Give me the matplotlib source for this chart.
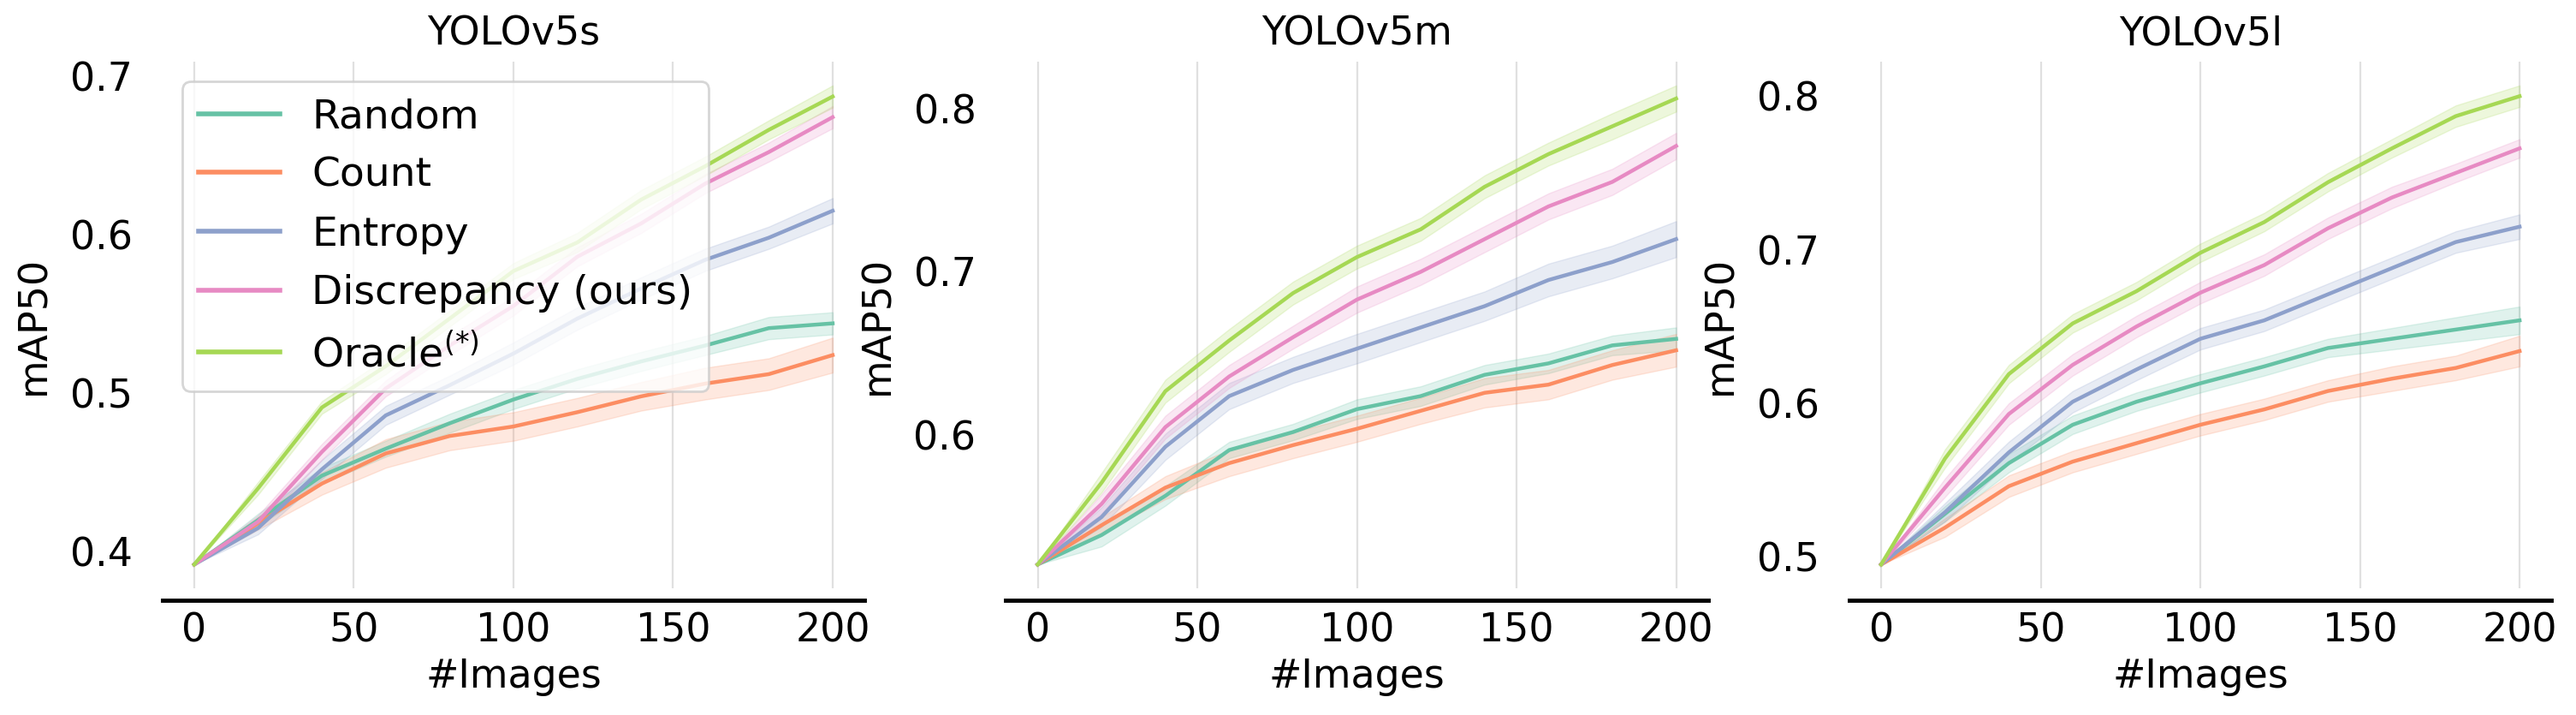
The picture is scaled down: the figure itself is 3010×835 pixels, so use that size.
import matplotlib
matplotlib.use("Agg")
import matplotlib.pyplot as plt

# number of labelled images
images = [0, 20, 40, 60, 80, 100, 120, 140, 160, 180, 200]

methods = ["Random", "Count", "Entropy", "Discrepancy (ours)", r"Oracle$^{(*)}$"]
colors = ["#66c2a5", "#fc8d62", "#8da0cb", "#e78ac3", "#a6d854"]
titles = ["YOLOv5s", "YOLOv5m", "YOLOv5l"]

# YOLOv5s
random_s = [0.392, 0.420, 0.448, 0.465, 0.481, 0.496, 0.509, 0.520, 0.530, 0.541, 0.544]
count_s = [0.392, 0.418, 0.443, 0.462, 0.473, 0.479, 0.488, 0.498, 0.506, 0.512, 0.524]
entropy_s = [0.392, 0.415, 0.452, 0.486, 0.505, 0.525, 0.547, 0.566, 0.584, 0.598, 0.615]
discrepancy_s = [0.392, 0.419, 0.463, 0.503, 0.530, 0.555, 0.586, 0.607, 0.632, 0.652, 0.674]
oracle_s = [0.392, 0.440, 0.491, 0.517, 0.547, 0.577, 0.595, 0.622, 0.643, 0.666, 0.687]

# YOLOv5m
random_m = [0.521, 0.539, 0.563, 0.591, 0.602, 0.616, 0.624, 0.637, 0.644, 0.655, 0.659]
count_m = [0.521, 0.545, 0.568, 0.583, 0.594, 0.604, 0.615, 0.626, 0.631, 0.643, 0.652]
entropy_m = [0.521, 0.550, 0.593, 0.624, 0.640, 0.653, 0.666, 0.679, 0.695, 0.706, 0.720]
discrepancy_m = [0.521, 0.558, 0.605, 0.636, 0.660, 0.683, 0.700, 0.720, 0.740, 0.755, 0.777]
oracle_m = [0.521, 0.571, 0.627, 0.658, 0.687, 0.709, 0.726, 0.752, 0.772, 0.789, 0.806]

# YOLOv5l
random_l = [0.495, 0.528, 0.561, 0.586, 0.601, 0.613, 0.624, 0.636, 0.642, 0.648, 0.654]
count_l = [0.495, 0.519, 0.546, 0.562, 0.574, 0.586, 0.596, 0.608, 0.616, 0.623, 0.634]
entropy_l = [0.495, 0.529, 0.568, 0.601, 0.622, 0.642, 0.654, 0.671, 0.688, 0.705, 0.715]
discrepancy_l = [0.495, 0.545, 0.593, 0.625, 0.650, 0.672, 0.690, 0.714, 0.734, 0.750, 0.766]
oracle_l = [0.495, 0.564, 0.619, 0.652, 0.673, 0.698, 0.718, 0.744, 0.766, 0.787, 0.800]

# half width of the shaded bands
err_random_s = [0, .004, .005, .005, .006, .006, .006, .006, .006, .007, .007]
err_count_s = [0, .004, .007, .009, .009, .009, .009, .009, .010, .010, .011]
err_entropy_s = [0, .004, .006, .006, .006, .007, .007, .007, .007, .007, .008]
err_discrepancy_s = [0, .004, .005, .005, .006, .006, .006, .006, .006, .006, .007]
err_oracle_s = [0, .004, .004, .005, .005, .005, .006, .006, .006, .006, .007]

err_random_m = [0, .007, .006, .005, .005, .006, .006, .006, .006, .006, .007]
err_count_m = [0, .005, .007, .008, .008, .008, .008, .009, .009, .009, .010]
err_entropy_m = [0, .006, .008, .008, .008, .009, .009, .009, .010, .010, .011]
err_discrepancy_m = [0, .006, .007, .007, .007, .008, .008, .008, .008, .008, .008]
err_oracle_m = [0, .006, .007, .007, .007, .007, .007, .007, .007, .008, .008]

err_random_l = [0, .005, .006, .006, .006, .006, .006, .006, .007, .008, .009]
err_count_l = [0, .006, .007, .007, .007, .007, .007, .007, .008, .008, .010]
err_entropy_l = [0, .006, .007, .007, .007, .007, .007, .007, .007, .007, .008]
err_discrepancy_l = [0, .006, .007, .007, .007, .007, .007, .007, .007, .006, .006]
err_oracle_l = [0, .006, .006, .006, .006, .006, .006, .006, .006, .007, .007]

panels = [
    ([random_s, count_s, entropy_s, discrepancy_s, oracle_s],
     [err_random_s, err_count_s, err_entropy_s, err_discrepancy_s, err_oracle_s]),
    ([random_m, count_m, entropy_m, discrepancy_m, oracle_m],
     [err_random_m, err_count_m, err_entropy_m, err_discrepancy_m, err_oracle_m]),
    ([random_l, count_l, entropy_l, discrepancy_l, oracle_l],
     [err_random_l, err_count_l, err_entropy_l, err_discrepancy_l, err_oracle_l]),
]

fs = 33
plt.rcParams["font.family"] = ["DejaVu Sans"]

fig, axes = plt.subplots(1, 3, figsize=(30.1, 8.35), dpi=100)
fig.subplots_adjust(left=0.063, right=0.9905, bottom=0.177, top=0.914, wspace=0.201)

for ax, title, (series, errs) in zip(axes, titles, panels):
    for name, col, y, e in zip(methods, colors, series, errs):
        lo = [v - d for v, d in zip(y, e)]
        hi = [v + d for v, d in zip(y, e)]
        ax.fill_between(images, lo, hi, color=col, alpha=0.2, linewidth=1)
        ax.plot(images, y, color=col, lw=3.2, label=name)

    ax.set_title(title, fontsize=fs, pad=14)
    ax.set_xlabel("#Images", fontsize=fs, labelpad=6)
    ax.set_ylabel("mAP50", fontsize=fs, labelpad=14)
    ax.set_xticks([0, 50, 100, 150, 200])
    ax.tick_params(axis="x", length=0, pad=10, labelsize=fs)
    ax.tick_params(axis="y", length=0, pad=25, labelsize=fs)

    ax.grid(axis="x", color="#e0e0e0", lw=1.6)
    ax.grid(axis="y", visible=False)
    ax.set_axisbelow(True)
    for s in ["left", "top", "right"]:
        ax.spines[s].set_visible(False)
    ax.spines["bottom"].set_position(("outward", 10))
    ax.spines["bottom"].set_linewidth(3.5)
    ax.spines["bottom"].set_color("black")

leg = axes[0].legend(loc="upper left", fontsize=34, framealpha=0.8, fancybox=True)
leg.get_frame().set_edgecolor("#cccccc")
leg.get_frame().set_linewidth(2)
for line in leg.get_lines():
    line.set_linewidth(4)

fig.savefig("out.png", dpi=100)
